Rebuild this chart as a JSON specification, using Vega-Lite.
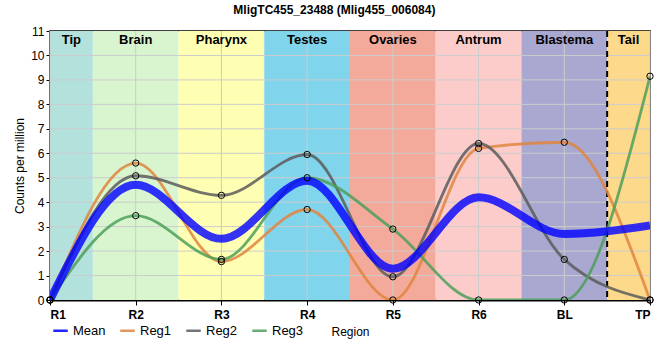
{
  "$schema": "https://vega.github.io/schema/vega-lite/v6.json",
  "width": 600,
  "height": 269,
  "autosize": {"type": "none"},
  "padding": {"left": 50, "top": 31, "right": 10, "bottom": 60},
  "background": "white",
  "config": {
    "font": "Liberation Sans",
    "view": {"stroke": "black", "strokeWidth": 1.5},
    "axis": {"grid": false, "domainColor": "black", "domainWidth": 2, "tickColor": "black", "labelColor": "black", "labelFontSize": 12, "titleFontSize": 12, "titleFontWeight": "normal", "titleColor": "black", "labelOverlap": false}
  },
  "title": {"text": "MligTC455_23488 (Mlig455_006084)", "fontSize": 12, "fontWeight": "bold", "anchor": "middle", "frame": "bounds", "offset": 8, "color": "black"},
  "datasets": {
    "regions": [
      {"name": "Tip", "start": 0, "end": 0.5, "mid": 0.25},
      {"name": "Brain", "start": 0.5, "end": 1.5, "mid": 1},
      {"name": "Pharynx", "start": 1.5, "end": 2.5, "mid": 2},
      {"name": "Testes", "start": 2.5, "end": 3.5, "mid": 3},
      {"name": "Ovaries", "start": 3.5, "end": 4.5, "mid": 4},
      {"name": "Antrum", "start": 4.5, "end": 5.5, "mid": 5},
      {"name": "Blastema", "start": 5.5, "end": 6.5, "mid": 6},
      {"name": "Tail", "start": 6.5, "end": 7, "mid": 6.75}
    ],
    "xgrid": [{"v": 0}, {"v": 1}, {"v": 2}, {"v": 3}, {"v": 4}, {"v": 5}, {"v": 6}, {"v": 7}],
    "ygrid": [{"v": 1}, {"v": 2}, {"v": 3}, {"v": 4}, {"v": 5}, {"v": 6}, {"v": 7}, {"v": 8}, {"v": 9}, {"v": 10}],
    "series": [
      {"series": "Reg1", "pos": 0, "value": 0},
      {"series": "Reg1", "pos": 1, "value": 5.6},
      {"series": "Reg1", "pos": 2, "value": 1.57},
      {"series": "Reg1", "pos": 3, "value": 3.7},
      {"series": "Reg1", "pos": 4, "value": 0},
      {"series": "Reg1", "pos": 5, "value": 6.2},
      {"series": "Reg1", "pos": 6, "value": 6.45},
      {"series": "Reg1", "pos": 7, "value": 0},
      {"series": "Reg2", "pos": 0, "value": 0},
      {"series": "Reg2", "pos": 1, "value": 5.08},
      {"series": "Reg2", "pos": 2, "value": 4.28},
      {"series": "Reg2", "pos": 3, "value": 5.95},
      {"series": "Reg2", "pos": 4, "value": 0.95},
      {"series": "Reg2", "pos": 5, "value": 6.4},
      {"series": "Reg2", "pos": 6, "value": 1.66},
      {"series": "Reg2", "pos": 7, "value": 0},
      {"series": "Reg3", "pos": 0, "value": 0},
      {"series": "Reg3", "pos": 1, "value": 3.45},
      {"series": "Reg3", "pos": 2, "value": 1.66},
      {"series": "Reg3", "pos": 3, "value": 5.0},
      {"series": "Reg3", "pos": 4, "value": 2.9},
      {"series": "Reg3", "pos": 5, "value": 0},
      {"series": "Reg3", "pos": 6, "value": 0},
      {"series": "Reg3", "pos": 7, "value": 9.15},
      {"series": "Mean", "pos": 0, "value": 0},
      {"series": "Mean", "pos": 1, "value": 4.71},
      {"series": "Mean", "pos": 2, "value": 2.5},
      {"series": "Mean", "pos": 3, "value": 4.88},
      {"series": "Mean", "pos": 4, "value": 1.28},
      {"series": "Mean", "pos": 5, "value": 4.2},
      {"series": "Mean", "pos": 6, "value": 2.7},
      {"series": "Mean", "pos": 7, "value": 3.05}
    ]
  },
  "encoding": {
    "x": {"type": "quantitative", "scale": {"domain": [0, 7], "nice": false, "zero": false},
      "axis": {"values": [0, 1, 2, 3, 4, 5, 6, 7], "title": "Region", "labelExpr": "['R1','R2','R3','R4','R5','R6','BL','TP'][datum.value]", "labelFontWeight": "bold", "labelPadding": 4, "tickSize": 5, "titlePadding": 6}},
    "y": {"type": "quantitative", "scale": {"domain": [0, 11], "nice": false},
      "axis": {"values": [0, 1, 2, 3, 4, 5, 6, 7, 8, 9, 10, 11], "title": "Counts per million", "tickSize": 4, "labelPadding": 2, "titlePadding": 4}}
  },
  "layer": [
    {
      "data": {"name": "regions"},
      "mark": {"type": "rect", "opacity": 1},
      "encoding": {
        "x": {"field": "start", "type": "quantitative"},
        "x2": {"field": "end"},
        "y": {"datum": 0, "type": "quantitative"},
        "y2": {"datum": 11},
        "fill": {"field": "name", "type": "nominal", "legend": null,
          "scale": {"domain": ["Tip", "Brain", "Pharynx", "Testes", "Ovaries", "Antrum", "Blastema", "Tail"],
            "range": ["#b3e2dd", "#d8f5cf", "#ffffb3", "#80d4eb", "#f4aa9a", "#fccccb", "#a8a8d0", "#fdd98b"]}}
      }
    },
    {
      "data": {"name": "xgrid"},
      "mark": {"type": "rule", "color": "#cccccc", "strokeWidth": 1},
      "encoding": {"x": {"field": "v", "type": "quantitative"}}
    },
    {
      "data": {"name": "ygrid"},
      "mark": {"type": "rule", "color": "#cccccc", "strokeWidth": 1},
      "encoding": {"y": {"field": "v", "type": "quantitative"}}
    },
    {
      "data": {"name": "regions"},
      "mark": {"type": "text", "fontSize": 13, "fontWeight": "bold", "color": "black", "baseline": "middle"},
      "encoding": {
        "x": {"field": "mid", "type": "quantitative"},
        "y": {"datum": 10.62, "type": "quantitative"},
        "text": {"field": "name"}
      }
    },
    {
      "data": {"values": [{"x": 6.5}]},
      "mark": {"type": "rule", "color": "black", "strokeWidth": 2, "strokeDash": [6, 4]},
      "encoding": {"x": {"field": "x", "type": "quantitative"}}
    },
    {
      "data": {"name": "series"},
      "transform": [{"filter": "datum.series !== 'Mean'"}],
      "mark": {"type": "line", "interpolate": "monotone", "opacity": 0.85, "strokeWidth": 2.8, "clip": true},
      "encoding": {
        "x": {"field": "pos", "type": "quantitative"},
        "y": {"field": "value", "type": "quantitative"},
        "stroke": {"field": "series", "type": "nominal",
          "scale": {"domain": ["Mean", "Reg1", "Reg2", "Reg3"], "range": ["#0000ff", "#e0853f", "#5c5c5c", "#4e9f5a"]},
          "legend": {"title": null, "orient": "none", "legendX": 2, "legendY": 291, "direction": "horizontal",
            "symbolType": "stroke", "symbolSize": 210, "symbolStrokeWidth": 2.5, "labelFontSize": 13, "labelFont": "Liberation Sans", "columnPadding": 9, "labelOffset": 4,
            "encode": {
              "labels": {"update": {"fill": {"scale": "stroke", "field": "value"}, "opacity": {"value": 0.7}}},
              "symbols": {"update": {"strokeWidth": {"signal": "datum.value === 'Mean' ? 8 : 2.5"}, "opacity": {"value": 0.85}}}
            }}}
      }
    },
    {
      "data": {"name": "series"},
      "transform": [{"filter": "datum.series === 'Mean'"}],
      "mark": {"type": "line", "interpolate": "monotone", "opacity": 0.8, "strokeWidth": 8, "clip": true},
      "encoding": {
        "x": {"field": "pos", "type": "quantitative"},
        "y": {"field": "value", "type": "quantitative"},
        "stroke": {"field": "series", "type": "nominal"}
      }
    },
    {
      "data": {"name": "series"},
      "transform": [{"filter": "datum.series !== 'Mean'"}],
      "mark": {"type": "point", "shape": "circle", "filled": false, "stroke": "black", "strokeWidth": 1, "size": 40, "opacity": 1},
      "encoding": {
        "x": {"field": "pos", "type": "quantitative"},
        "y": {"field": "value", "type": "quantitative"}
      }
    }
  ]
}
